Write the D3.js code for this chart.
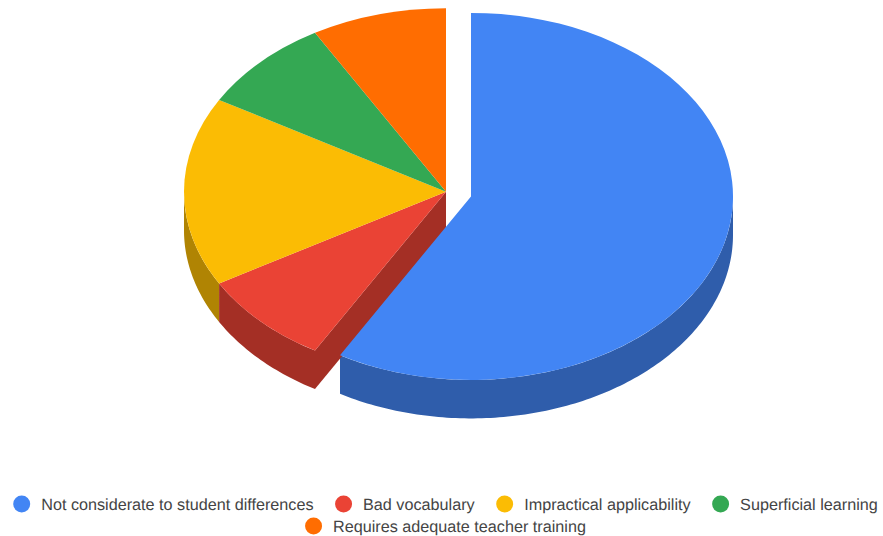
<!DOCTYPE html>
<html><head><meta charset="utf-8">
<script src="https://cdn.jsdelivr.net/npm/d3@7"></script>
<style>html,body{margin:0;padding:0;background:#fff}svg{display:block}text{font-family:"Liberation Sans",Arial,sans-serif;font-size:16.2px;fill:#444;text-rendering:geometricPrecision}</style>
</head><body><svg id="c" width="883" height="536"></svg>
<script>
const categories=["Not considerate to student differences","Bad vocabulary","Impractical applicability","Superficial learning","Requires adequate teacher training"];
const values=[7,1,2,1,1];
const topColors=["#4285f4","#ea4335","#fbbc04","#34a853","#ff6d01"];
const sideColors=["#2f5dab","#a42f25","#b08403","#247538","#b34c01"];
const explode=[1,0,0,0,0];

const legendCenter=445.5,cx=446,cy=191.7,rx=262,ry=183.5,depth=38.5,dx=25,dy=4.7;
const svg=d3.select("#c");
const arcs=d3.pie().sort(null).value(d=>d)(values).map((d,i)=>({...d,i}));
const px=d3.scaleLinear().domain([-1,1]).range([cx-rx,cx+rx]);
const py=d3.scaleLinear().domain([-1,1]).range([cy-ry,cy+ry]);
const ox=i=>explode[i]?dx:0, oy=i=>explode[i]?dy:0;
const pt=(a,i,d=0)=>[px(Math.sin(a))+ox(i),py(-Math.cos(a))+oy(i)+d];
const line=d3.line();
function wall(a0,a1,i){
  const s=Math.max(a0,Math.PI/2),e=Math.min(a1,3*Math.PI/2);
  if(e<=s)return null;
  const n=Math.ceil((e-s)*60),top=[],bot=[];
  for(let k=0;k<=n;k++){const a=s+(e-s)*k/n;top.push(pt(a,i));bot.unshift(pt(a,i,depth));}
  return line(top.concat(bot))+"Z";
}
const g=svg.append("g");
const red=arcs[1];
[arcs[2],arcs[1],arcs[0]].forEach(d=>{
  const p=wall(d.startAngle,d.endAngle,d.i);
  if(p)g.append("path").attr("d",p).attr("fill",sideColors[d.i]);
});
{
  const c=[px(0),py(0)],e=pt(red.startAngle,1);
  g.append("path").attr("d",line([c,e,[e[0],e[1]+depth],[c[0],c[1]+depth]])+"Z").attr("fill",sideColors[1]);
}
const arcGen=d3.arc().innerRadius(0).outerRadius(1);
arcs.slice(1).concat(arcs[0]).forEach(d=>{
  g.append("path").attr("d",arcGen(d))
   .attr("transform",`translate(${cx+ox(d.i)},${cy+oy(d.i)}) scale(${rx},${ry})`)
   .attr("fill",topColors[d.i]);
});
const rows=[[0,1,2,3],[4]];
const leg=svg.append("g");
const meas=t=>{const n=leg.append("text").text(t);const w=n.node().getComputedTextLength();n.remove();return w;};
const rowY=[504,526],swatch=8.5,gapIcon=19.5,gapItem=21.5;
rows.forEach((r,ri)=>{
  const widths=r.map(i=>meas(categories[i]));
  const total=d3.sum(widths)+r.length*(swatch+gapIcon)+(r.length-1)*gapItem;
  let x=legendCenter-total/2;
  r.forEach((i,k)=>{
    leg.append("circle").attr("cx",x+swatch).attr("cy",rowY[ri]).attr("r",swatch).attr("fill",topColors[i]);
    leg.append("text").attr("x",x+swatch+gapIcon).attr("y",rowY[ri]+5.5).text(categories[i]);
    x+=swatch+gapIcon+widths[k]+gapItem;
  });
});
</script></body></html>
